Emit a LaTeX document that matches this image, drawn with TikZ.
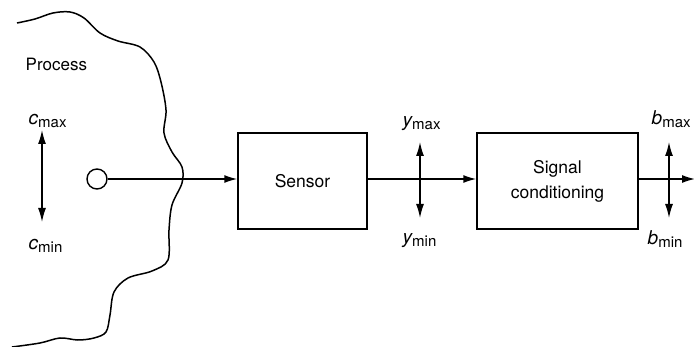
\documentclass[tikz,border=0pt]{standalone}
\usepackage{fontspec}
\setmainfont{TeX Gyre Heros}
\usetikzlibrary{arrows.meta}
\newcommand{\varlbl}[2]{{\fontsize{19}{19}\selectfont\itshape #1}\raisebox{-0.3ex}{\fontsize{15}{15}\selectfont #2}}
\begin{document}
\begin{tikzpicture}[x=1pt,y=-1pt,
  line width=1.4pt,
  arr/.style={-{Latex[length=13pt,width=8pt]}},
  darr/.style={{Latex[length=14pt,width=8pt]}-{Latex[length=14pt,width=8pt]}},
  blk/.style={draw, rectangle, inner sep=0pt, align=center, font=\fontsize{17.5}{25}\selectfont},
  txt/.style={inner sep=0pt, font=\fontsize{17}{20}\selectfont}]
\useasboundingbox (0,0) rectangle (694,347);
% process boundary
\draw[line width=1.5pt] plot[smooth, tension=0.55] coordinates {(17,23) (35,19) (53,13) (70,12) (84,18) (100,33) (118,41) (140,47) (154,62) (161,82) (166,110) (164,133) (172,152) (182,167) (182,183) (172,205) (169,230) (168,260) (152,271) (128,278) (114,292) (110,315) (106,332) (94,338) (78,340) (60,338) (40,343) (12,347)};
\node[txt, anchor=base west] (proc) at (25,71) {Process};
% c range
\node[txt, anchor=base west] (cmax) at (28,125) {\varlbl{c}{max}};
\node[txt, anchor=base west] (cmin) at (28,250) {\varlbl{c}{min}};
\coordinate (ct) at (42,130);
\coordinate (cb) at (42,222);
\draw[darr] (ct) -- (cb);
% source
\node[circle, draw, minimum size=20pt, inner sep=0pt] (src) at (97,179) {};
% blocks
\node[blk, minimum width=129pt, minimum height=96pt] (sensor) at (302.5,181) {Sensor};
\node[blk, minimum width=161pt, minimum height=96pt] (cond) at (557.5,181) {Signal\\conditioning};
\draw[arr] (src) -- (src -| sensor.west);
\coordinate (m1) at (367,179);
\draw[arr] (m1) -- (m1 -| cond.west);
\coordinate (m2) at (638,179);
\coordinate (out) at (695,179);
\draw[arr] (m2) -- (out);
% y range
\node[txt, anchor=base west] (ymax) at (402,127) {\varlbl{y}{max}};
\node[txt, anchor=base west] (ymin) at (402,244) {\varlbl{y}{min}};
\coordinate (yt) at (420,142);
\coordinate (yb) at (420,218);
\draw[darr] (yt) -- (yb);
% b range
\node[txt, anchor=base west] (bmax) at (651,125) {\varlbl{b}{max}};
\node[txt, anchor=base west] (bmin) at (647,245) {\varlbl{b}{min}};
\coordinate (bt) at (669,142);
\coordinate (bb) at (669,218);
\draw[darr] (bt) -- (bb);
\end{tikzpicture}
\end{document}
